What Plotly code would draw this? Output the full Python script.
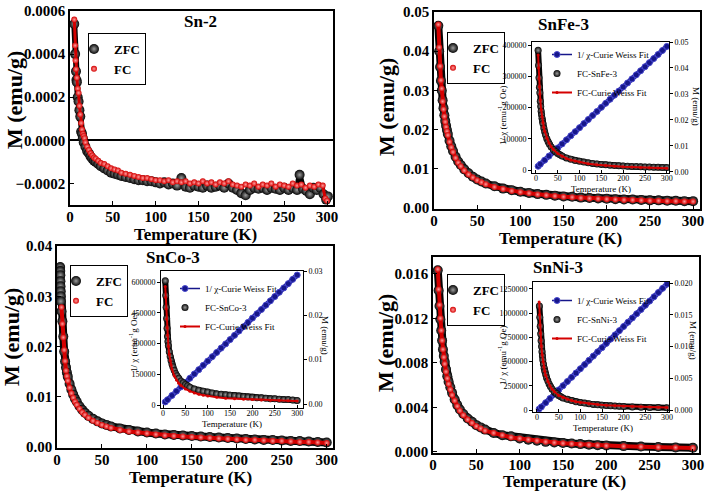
import plotly.graph_objects as go

SERIF = "Liberation Serif"
W, H = 709, 493

# ---------------- data ----------------
# Sn-2 (values in units of 1e-4 emu/g)
sn2_T_zfc = [5, 6, 7, 7.5, 8, 9, 10, 11, 12, 13, 14, 15, 16, 18, 20, 22, 24, 26, 28, 30,
             33, 36, 40, 44, 48, 52, 56, 60, 65, 70, 75, 80, 85, 90, 95, 100, 105, 110, 115, 120,
             125, 130, 135, 140, 145, 150, 155, 160, 165, 170, 175, 180, 185, 190, 195, 200, 205, 210, 215, 220,
             225, 230, 235, 240, 245, 250, 255, 260, 265, 268, 272, 276, 280, 284, 288, 292, 296, 299, 301]
sn2_M_zfc_e4 = [5.4, 4.0, 3.2, 2.8, 2.7, 2.0, 1.8, 1.4, 1.1, 0.4, 0.3, 0.1, -0.1, -0.3, -0.5, -0.6, -0.75, -0.85, -0.95, -1.0,
                -1.1, -1.2, -1.3, -1.4, -1.5, -1.55, -1.6, -1.65, -1.7, -1.75, -1.8, -1.85, -1.85, -1.9, -1.9, -1.95, -2.0, -1.95, -2.05, -2.0,
                -2.1, -1.75, -2.15, -2.2, -2.1, -2.15, -2.2, -2.1, -2.2, -2.15, -2.1, -2.2, -2.0, -2.2, -2.3, -2.45, -2.55, -2.3, -2.2, -2.25,
                -2.2, -2.3, -2.2, -2.25, -2.3, -2.2, -2.3, -2.2, -2.3, -1.6, -2.25, -2.35, -2.5, -2.2, -2.3, -2.2, -2.5, -2.75, -2.6]
sn2_T_fc = [5, 6, 6.5, 7, 8, 9, 10, 11, 12, 13, 14, 15, 16, 17, 18, 20, 22, 24, 26, 28,
            30, 33, 36, 40, 44, 48, 52, 56, 60, 65, 70, 75, 80, 85, 90, 95, 100, 105, 110, 115,
            120, 125, 130, 135, 140, 145, 150, 155, 160, 165, 170, 175, 180, 185, 190, 195, 200, 205, 210, 215,
            220, 225, 230, 235, 240, 245, 250, 255, 260, 265, 270, 275, 280, 285, 290, 295, 298, 300]
sn2_M_fc_e4 = [5.6, 4.4, 3.7, 3.3, 2.9, 2.4, 2.2, 1.6, 1.2, 0.8, 0.5, 0.3, 0.2, 0.1, -0.1, -0.3, -0.45, -0.6, -0.7, -0.8,
               -0.85, -0.95, -1.05, -1.1, -1.2, -1.3, -1.35, -1.4, -1.5, -1.55, -1.6, -1.65, -1.7, -1.75, -1.75, -1.8, -1.85, -1.85, -1.9, -1.85,
               -1.95, -1.9, -1.95, -1.9, -2.0, -1.95, -2.0, -1.9, -2.0, -1.95, -2.05, -1.95, -2.0, -1.9, -2.05, -2.1, -2.15, -2.05, -2.1, -2.0,
               -2.15, -2.05, -2.1, -2.0, -2.15, -2.05, -2.1, -2.15, -2.0, -2.1, -2.05, -2.2, -2.1, -2.15, -2.05, -2.1, -2.7, -2.8]
sn2_M_zfc = [v * 1e-4 for v in sn2_M_zfc_e4]
sn2_M_fc = [v * 1e-4 for v in sn2_M_fc_e4]

# SnFe-3
snfe_T = [5, 6, 7, 8, 9, 10, 11, 12, 13, 14, 15, 16, 18, 20, 22, 25, 28, 31, 35, 40, 45, 50, 55, 60,
          70, 80, 90, 100, 110, 120, 130, 140, 150, 160, 170, 180, 190, 200, 210, 220, 230, 240, 250, 260, 270, 280, 290, 300]
snfe_M_zfc = [0.0465, 0.0400, 0.0360, 0.0325, 0.0300, 0.0275, 0.0255, 0.0237, 0.0222, 0.0210, 0.0199, 0.0189, 0.0172, 0.0158,
              0.0146, 0.0131, 0.0119, 0.0110, 0.0099, 0.0089, 0.0080, 0.0073, 0.0068, 0.0063, 0.0056, 0.0050, 0.0046, 0.0042,
              0.0039, 0.0036, 0.0034, 0.0032, 0.0030, 0.0029, 0.0027, 0.0026, 0.0025, 0.0024, 0.0023, 0.0022, 0.0022, 0.0021,
              0.0020, 0.0020, 0.0019, 0.0019, 0.0018, 0.0018]
snfe_M_fc = [0.0468, 0.0410, 0.0362, 0.0326, 0.0305, 0.0272, 0.0252, 0.0234, 0.0220, 0.0207, 0.0196, 0.0186, 0.0169, 0.0155,
             0.0143, 0.0128, 0.0116, 0.0107, 0.0096, 0.0086, 0.0078, 0.0071, 0.0066, 0.0061, 0.0054, 0.0049, 0.0044, 0.0041,
             0.0038, 0.0035, 0.0033, 0.0031, 0.0029, 0.0028, 0.0026, 0.0025, 0.0024, 0.0023, 0.0022, 0.0021, 0.0021, 0.0020,
             0.0019, 0.0019, 0.0018, 0.0018, 0.0017, 0.0017]

# common temperatures for fits
fit_T = [5, 6, 7, 8, 9, 10, 12, 14, 16, 18, 20, 25, 30, 35, 40, 50, 60, 70, 80, 90, 100,
         120, 140, 160, 180, 200, 220, 240, 260, 280, 300]
chi_T = [5, 10, 20, 30, 40, 50, 60, 70, 80, 90, 100, 110, 120, 130, 140, 150, 160, 170, 180, 190,
         200, 210, 220, 230, 240, 250, 260, 270, 280, 290, 300]

snfe_fit = [0.0450, 0.0400, 0.0360, 0.0328, 0.0300, 0.0277, 0.0240, 0.0212, 0.0190, 0.0172, 0.0157, 0.0130, 0.0111,
            0.0097, 0.0086, 0.0071, 0.0060, 0.0052, 0.0046, 0.0042, 0.0038, 0.0032, 0.0028, 0.0025, 0.0022, 0.0020,
            0.0019, 0.0017, 0.0016, 0.0015, 0.0014]
snfe_inv_chi = [12000, 18500, 31500, 44500, 57500, 70500, 83500, 96500, 109500, 122500, 135500, 148500, 161500,
                174500, 187500, 200500, 213500, 226500, 239500, 252500, 265500, 278500, 291500, 304500, 317500,
                330500, 343500, 356500, 369500, 382500, 395500]

# SnCo-3
snco_T_zfc = [3.5, 3.6, 3.7, 3.8, 3.9, 4.0, 4.1, 4.2, 5, 6, 7, 8, 9, 10, 11, 12, 14, 16, 18, 20, 22, 25, 28, 31, 35, 40,
              45, 50, 55, 60, 70, 80, 90, 100, 110, 120, 130, 140, 150, 160, 170, 180, 190, 200, 210, 220, 230, 240,
              250, 260, 270, 280, 290, 300]
snco_M_zfc = [0.0358, 0.0350, 0.0342, 0.0330, 0.0320, 0.0310, 0.0300, 0.0290, 0.0270, 0.0250, 0.0220, 0.0190, 0.0170,
              0.0158, 0.0148, 0.0140, 0.0126, 0.0114, 0.0104, 0.0096, 0.0090, 0.0081, 0.0074, 0.0068, 0.0062, 0.0056,
              0.0051, 0.0047, 0.0044, 0.0041, 0.0037, 0.0034, 0.0031, 0.0029, 0.0027, 0.0025, 0.0024, 0.0023, 0.0022,
              0.0021, 0.0020, 0.0019, 0.0018, 0.0017, 0.0016, 0.0015, 0.0014, 0.0014, 0.0013, 0.0012, 0.0012, 0.0011,
              0.0010, 0.0009]
snco_T_fc = [5, 6, 7, 8, 9, 10, 11, 12, 14, 16, 18, 20, 22, 25, 28, 31, 35, 40, 45, 50, 55, 60, 70,
             80, 90, 100, 110, 120, 130, 140, 150, 160, 170, 180, 190, 200, 210, 220, 230, 240, 250, 260, 270, 280, 290, 300]
snco_M_fc = [0.0278, 0.0245, 0.0218, 0.0193, 0.0171, 0.0152, 0.0141, 0.0132, 0.0118, 0.0107, 0.0098, 0.0090, 0.0084,
             0.0076, 0.0069, 0.0064, 0.0058, 0.0052, 0.0048, 0.0044, 0.0041, 0.0038, 0.0034, 0.0031, 0.0029, 0.0027,
             0.0025, 0.0023, 0.0022, 0.0021, 0.0020, 0.0019, 0.0018, 0.0017, 0.0016, 0.0015, 0.0014, 0.0014, 0.0013,
             0.0012, 0.0012, 0.0011, 0.0010, 0.0010, 0.0009, 0.0008]
snco_fit = [0.0265, 0.0240, 0.0215, 0.0192, 0.0172, 0.0155, 0.0130, 0.0112, 0.0098, 0.0088, 0.0079, 0.0064, 0.0054,
            0.0047, 0.0042, 0.0034, 0.0029, 0.0025, 0.0022, 0.0020, 0.0018, 0.0015, 0.0013, 0.0012, 0.0011, 0.0010,
            0.0009, 0.00085, 0.0008, 0.00075, 0.0007]
snco_inv_chi = [15000, 25500, 46500, 67500, 88500, 109500, 130500, 151500, 172500, 193500, 214500, 235500, 256500,
                277500, 298000, 319000, 340000, 361000, 382000, 403000, 424000, 445000, 466000, 487000, 508000,
                529000, 550000, 571000, 592000, 613000, 634000]

# SnNi-3
snni_T = [5.5, 6.5, 7.5, 8.5, 9.5, 10.5, 11.5, 12.5, 13.5, 15, 16.5, 18, 20, 22, 25, 28, 31, 35, 40, 45, 50, 55, 60,
          70, 80, 90, 100, 110, 120, 130, 140, 150, 160, 170, 180, 190, 200, 220, 240, 260, 280, 300]
snni_M_zfc = [0.0163, 0.0145, 0.0131, 0.0119, 0.0109, 0.0100, 0.0092, 0.0086, 0.0081, 0.0074, 0.0068, 0.0063,
              0.0058, 0.0053, 0.0047, 0.0042, 0.0038, 0.0034, 0.0030, 0.0027, 0.0024, 0.0022, 0.0020,
              0.0017, 0.0015, 0.0014, 0.0012, 0.0011, 0.0010, 0.0009, 0.00085, 0.0008, 0.00075, 0.0007, 0.00065,
              0.0006, 0.00058, 0.00052, 0.00048, 0.00044, 0.0004, 0.00037]
snni_M_fc = [0.0164, 0.0146, 0.0132, 0.0120, 0.0109, 0.0100, 0.0092, 0.0085, 0.0079, 0.0072, 0.0066, 0.0061,
             0.0056, 0.0051, 0.0046, 0.0041, 0.0037, 0.0033, 0.0029, 0.0026, 0.0023, 0.0021, 0.0019,
             0.0017, 0.0015, 0.0013, 0.0012, 0.0011, 0.0010, 0.0009, 0.00083, 0.00077, 0.00072, 0.00067, 0.00063,
             0.00059, 0.00055, 0.0005, 0.00046, 0.00042, 0.00039, 0.00035]
snni_fit = [0.0170, 0.0150, 0.0134, 0.0121, 0.0110, 0.0101, 0.0087, 0.0076, 0.0068, 0.0061, 0.0055, 0.0045, 0.0038,
            0.0033, 0.0029, 0.0023, 0.0020, 0.0017, 0.0015, 0.0013, 0.0012, 0.0010, 0.00087, 0.00077, 0.00069,
            0.00062, 0.00057, 0.00052, 0.00048, 0.00045, 0.00042]
snni_inv_chi = [10000, 32000, 75500, 119000, 163000, 207000, 250500, 294000, 338000, 382000, 425500, 469000, 513000,
                557000, 600500, 644000, 688000, 732000, 775500, 819000, 863000, 907000, 950500, 994000, 1038000,
                1082000, 1125500, 1169000, 1213000, 1257000, 1300000]

temp_ticks = [0, 50, 100, 150, 200, 250, 300]

# ---------------- styling helpers ----------------
BLACK_C, BLACK_HI = "#050505", "#9c9c9c"
RED_C, RED_HI = "#d40000", "#ff9c9c"
BLUE_C = "#16168a"


def px_x(p):
    return p / W


def px_y(p):
    return 1 - p / H


def sphere(color, hi, size):
    return dict(color=color, size=size, gradient=dict(type="radial", color=hi), line=dict(width=0))


fig = go.Figure()


def add_main(Tz, Mz, Tf, Mf, xa, ya, leg, wz, wf):
    fig.add_trace(go.Scatter(x=Tz, y=Mz, mode="lines", line=dict(color=BLACK_C, width=wz),
                             xaxis=xa, yaxis=ya, showlegend=False, hoverinfo="skip"))
    fig.add_trace(go.Scatter(x=Tz, y=Mz, mode="markers", name="ZFC", marker=sphere(BLACK_C, BLACK_HI, 10),
                             xaxis=xa, yaxis=ya, legend=leg))
    fig.add_trace(go.Scatter(x=Tf, y=Mf, mode="lines", line=dict(color=RED_C, width=wf),
                             xaxis=xa, yaxis=ya, showlegend=False, hoverinfo="skip"))
    fig.add_trace(go.Scatter(x=Tf, y=Mf, mode="markers", name="FC", marker=sphere(RED_C, RED_HI, 6),
                             xaxis=xa, yaxis=ya, legend=leg))


def add_inset(chiT, chi, Tf, Mf, fT, fM, xa, yl, yr, leg, sample):
    fig.add_trace(go.Scatter(x=chiT, y=chi, mode="lines", line=dict(color=BLUE_C, width=5),
                             xaxis=xa, yaxis=yl, showlegend=False, hoverinfo="skip"))
    fig.add_trace(go.Scatter(x=chiT, y=chi, mode="lines+markers", name="1/ \u03c7-Curie Weiss Fit",
                             line=dict(color=BLUE_C, width=1.5),
                             marker=dict(color=BLUE_C, size=6, line=dict(color="#4a4ad0", width=1)),
                             xaxis=xa, yaxis=yl, legend=leg))
    fig.add_trace(go.Scatter(x=Tf, y=Mf, mode="lines", line=dict(color=BLACK_C, width=6),
                             xaxis=xa, yaxis=yr, showlegend=False, hoverinfo="skip"))
    fig.add_trace(go.Scatter(x=Tf, y=Mf, mode="markers", name="FC-" + sample,
                             marker=sphere(BLACK_C, BLACK_HI, 7), xaxis=xa, yaxis=yr, legend=leg))
    fig.add_trace(go.Scatter(x=fT, y=fM, mode="lines+markers", name="FC-Curie Weiss Fit",
                             line=dict(color=RED_C, width=2), marker=dict(color=RED_C, size=3),
                             xaxis=xa, yaxis=yr, legend=leg))


add_main(sn2_T_zfc, sn2_M_zfc, sn2_T_fc, sn2_M_fc, "x", "y", "legend", 6, 3)
add_main(snfe_T, snfe_M_zfc, snfe_T, snfe_M_fc, "x2", "y2", "legend2", 8, 4)
add_main(snco_T_zfc, snco_M_zfc, snco_T_fc, snco_M_fc, "x3", "y3", "legend3", 8, 4)
add_main(snni_T, snni_M_zfc, snni_T, snni_M_fc, "x4", "y4", "legend4", 8, 4)

add_inset(chi_T, snfe_inv_chi, snfe_T, snfe_M_fc, fit_T, snfe_fit, "x5", "y5", "y6", "legend5", "SnFe-3")
add_inset(chi_T, snco_inv_chi, snco_T_fc, snco_M_fc, fit_T, snco_fit, "x6", "y7", "y8", "legend6", "SnCo-3")
add_inset(chi_T, snni_inv_chi, snni_T, snni_M_fc, fit_T, snni_fit, "x7", "y9", "y10", "legend7", "SnNi-3")

MAIN_TICKFONT = dict(family=SERIF, size=15, color="black", weight="bold")
INSET_TICKFONT = dict(family=SERIF, size=8, color="black")


def main_axis(domain, anchor, rng, **kw):
    d = dict(domain=domain, anchor=anchor, range=rng, ticks="inside", ticklen=4, tickwidth=1.2,
             tickcolor="black", showline=True, linecolor="black", linewidth=1.5, mirror=True,
             showgrid=False, zeroline=False, tickfont=MAIN_TICKFONT, automargin=False)
    d.update(kw)
    return d


def inset_axis(domain, anchor, rng, **kw):
    d = dict(domain=domain, anchor=anchor, range=rng, ticks="outside", ticklen=3, tickwidth=1,
             tickcolor="black", showline=True, linecolor="black", linewidth=1,
             showgrid=False, zeroline=False, tickfont=INSET_TICKFONT, automargin=False)
    d.update(kw)
    return d


def dom_x(a, b):
    return [px_x(a), px_x(b)]


def dom_y(top, bottom):
    return [px_y(bottom), px_y(top)]


MX = dict(tickvals=temp_ticks, ticklabelstandoff=-3)
IX = dict(tickvals=temp_ticks, mirror=True, ticks="inside", ticklabelstandoff=-3)

layout = dict(
    template="none",
    width=W, height=H, margin=dict(l=0, r=0, t=0, b=0, pad=0), autosize=False,
    paper_bgcolor="white", plot_bgcolor="white",
    xaxis=main_axis(dom_x(70, 333), "y", [0, 307], **MX),
    yaxis=main_axis(dom_y(11, 205), "x", [-0.0003, 0.0006], tickvals=[-0.0002, 0, 0.0002, 0.0004, 0.0006],
                    tickformat=".4f", zeroline=True, zerolinecolor="black", zerolinewidth=1.5),
    xaxis2=main_axis(dom_x(434, 700), "y2", [0, 308], **MX),
    yaxis2=main_axis(dom_y(12, 209), "x2", [-0.0002, 0.05], tickvals=[0, 0.01, 0.02, 0.03, 0.04, 0.05],
                     tickformat=".2f"),
    xaxis3=main_axis(dom_x(57, 333), "y3", [0, 307], **MX),
    yaxis3=main_axis(dom_y(246, 448), "x3", [-0.0002, 0.04], tickvals=[0, 0.01, 0.02, 0.03, 0.04],
                     tickformat=".2f"),
    xaxis4=main_axis(dom_x(433, 699), "y4", [0, 307], **MX),
    yaxis4=main_axis(dom_y(257, 453), "x4", [-0.0001, 0.0175], tickvals=[0, 0.004, 0.008, 0.012, 0.016],
                     tickformat=".3f"),
    # SnFe inset
    xaxis5=inset_axis(dom_x(532, 669), "y5", [-9, 305], **IX),
    yaxis5=inset_axis(dom_y(42, 173), "x5", [-9600, 409600], tickvals=[0, 100000, 200000, 300000, 400000],
                      tickformat="d"),
    yaxis6=inset_axis(None, "x5", [-0.0004, 0.05], overlaying="y5", side="right",
                      tickvals=[0, 0.01, 0.02, 0.03, 0.04, 0.05], tickformat=".2f"),
    # SnCo inset
    xaxis6=inset_axis(dom_x(161, 303), "y7", [-4.5, 313], **IX),
    yaxis7=inset_axis(dom_y(271, 408), "x6", [-14600, 653700], tickvals=[0, 150000, 300000, 450000, 600000],
                      tickformat="d"),
    yaxis8=inset_axis(None, "x6", [-0.0009, 0.03], overlaying="y7", side="right",
                      tickvals=[0, 0.01, 0.02, 0.03], tickformat=".2f"),
    # SnNi inset
    xaxis7=inset_axis(dom_x(533, 669), "y9", [-9.2, 304.6], **IX),
    yaxis9=inset_axis(dom_y(282, 412), "x7", [-20700, 1322000],
                      tickvals=[0, 250000, 500000, 750000, 1000000, 1250000], tickformat="d"),
    yaxis10=inset_axis(None, "x7", [-0.0003, 0.02016], overlaying="y9", side="right",
                       tickvals=[0, 0.005, 0.010, 0.015, 0.020], tickformat=".3f"),
)
for k in ("yaxis6", "yaxis8", "yaxis10"):
    layout[k].pop("domain")

main_leg_font = dict(family=SERIF, size=13, color="black", weight="bold")
inset_leg_font = dict(family=SERIF, size=9, color="black")


def main_leg(xp, yp):
    return dict(x=px_x(xp), y=px_y(yp), xanchor="left", yanchor="top", bordercolor="black", borderwidth=1,
                bgcolor="rgba(255,255,255,0)", font=main_leg_font, itemsizing="trace", tracegroupgap=0,
                indentation=-15, itemwidth=30)


def inset_leg(xp, yp):
    return dict(x=px_x(xp), y=px_y(yp), xanchor="left", yanchor="top", borderwidth=0,
                bgcolor="rgba(255,255,255,0)", font=inset_leg_font, itemsizing="trace", tracegroupgap=0,
                indentation=-15, itemwidth=30)


layout.update(
    legend=main_leg(88, 33), legend2=main_leg(447, 32), legend3=main_leg(70, 265), legend4=main_leg(447, 274),
    legend5=inset_leg(552, 40), legend6=inset_leg(180, 274), legend7=inset_leg(552, 286),
)

annotations = []


def text(t, xp, yp, size, bold=True, angle=0):
    annotations.append(dict(text=t, x=px_x(xp), y=px_y(yp), xref="paper", yref="paper", showarrow=False,
                            xanchor="center", yanchor="middle", textangle=angle,
                            font=dict(family=SERIF, size=size, color="black", weight="bold" if bold else "normal")))


# panel titles
text("Sn-2", 200, 22, 17)
text("SnFe-3", 563, 25, 17)
text("SnCo-3", 173, 257, 17)
text("SnNi-3", 558, 267, 17)
# main axis titles
text("Temperature (K)", 195, 234, 17)
text("Temperature (K)", 560, 238, 17)
text("Temperature (K)", 190, 477, 17)
text("Temperature (K)", 564, 481, 17)
text("M (emu/g)", 14, 100, 22, angle=-90)
text("M (emu/g)", 387, 107, 22, angle=-90)
text("M (emu/g)", 11, 337, 22, angle=-90)
text("M (emu/g)", 385, 343, 22, angle=-90)
# inset titles
INV = "1/ \u03c7 (emu<sup>-1</sup>g Oe)"
text(INV, 502, 115, 9, bold=False, angle=-90)
text("M (emu/g)", 696, 106, 9, bold=False, angle=90)
text("Temperature (K)", 601, 189, 9, bold=False)
text(INV, 133, 342, 9, bold=False, angle=-90)
text("M (emu/g)", 325, 335, 9, bold=False, angle=90)
text("Temperature (K)", 232, 424, 9, bold=False)
text(INV, 502, 355, 9, bold=False, angle=-90)
text("M (emu/g)", 693, 340, 9, bold=False, angle=90)
text("Temperature (K)", 603, 428, 9, bold=False)

layout["annotations"] = annotations
fig.update_layout(**layout)
fig.write_html("out.html", config={"displayModeBar": False},
               post_script="document.body.style.margin='0px';document.body.style.padding='0px';")
